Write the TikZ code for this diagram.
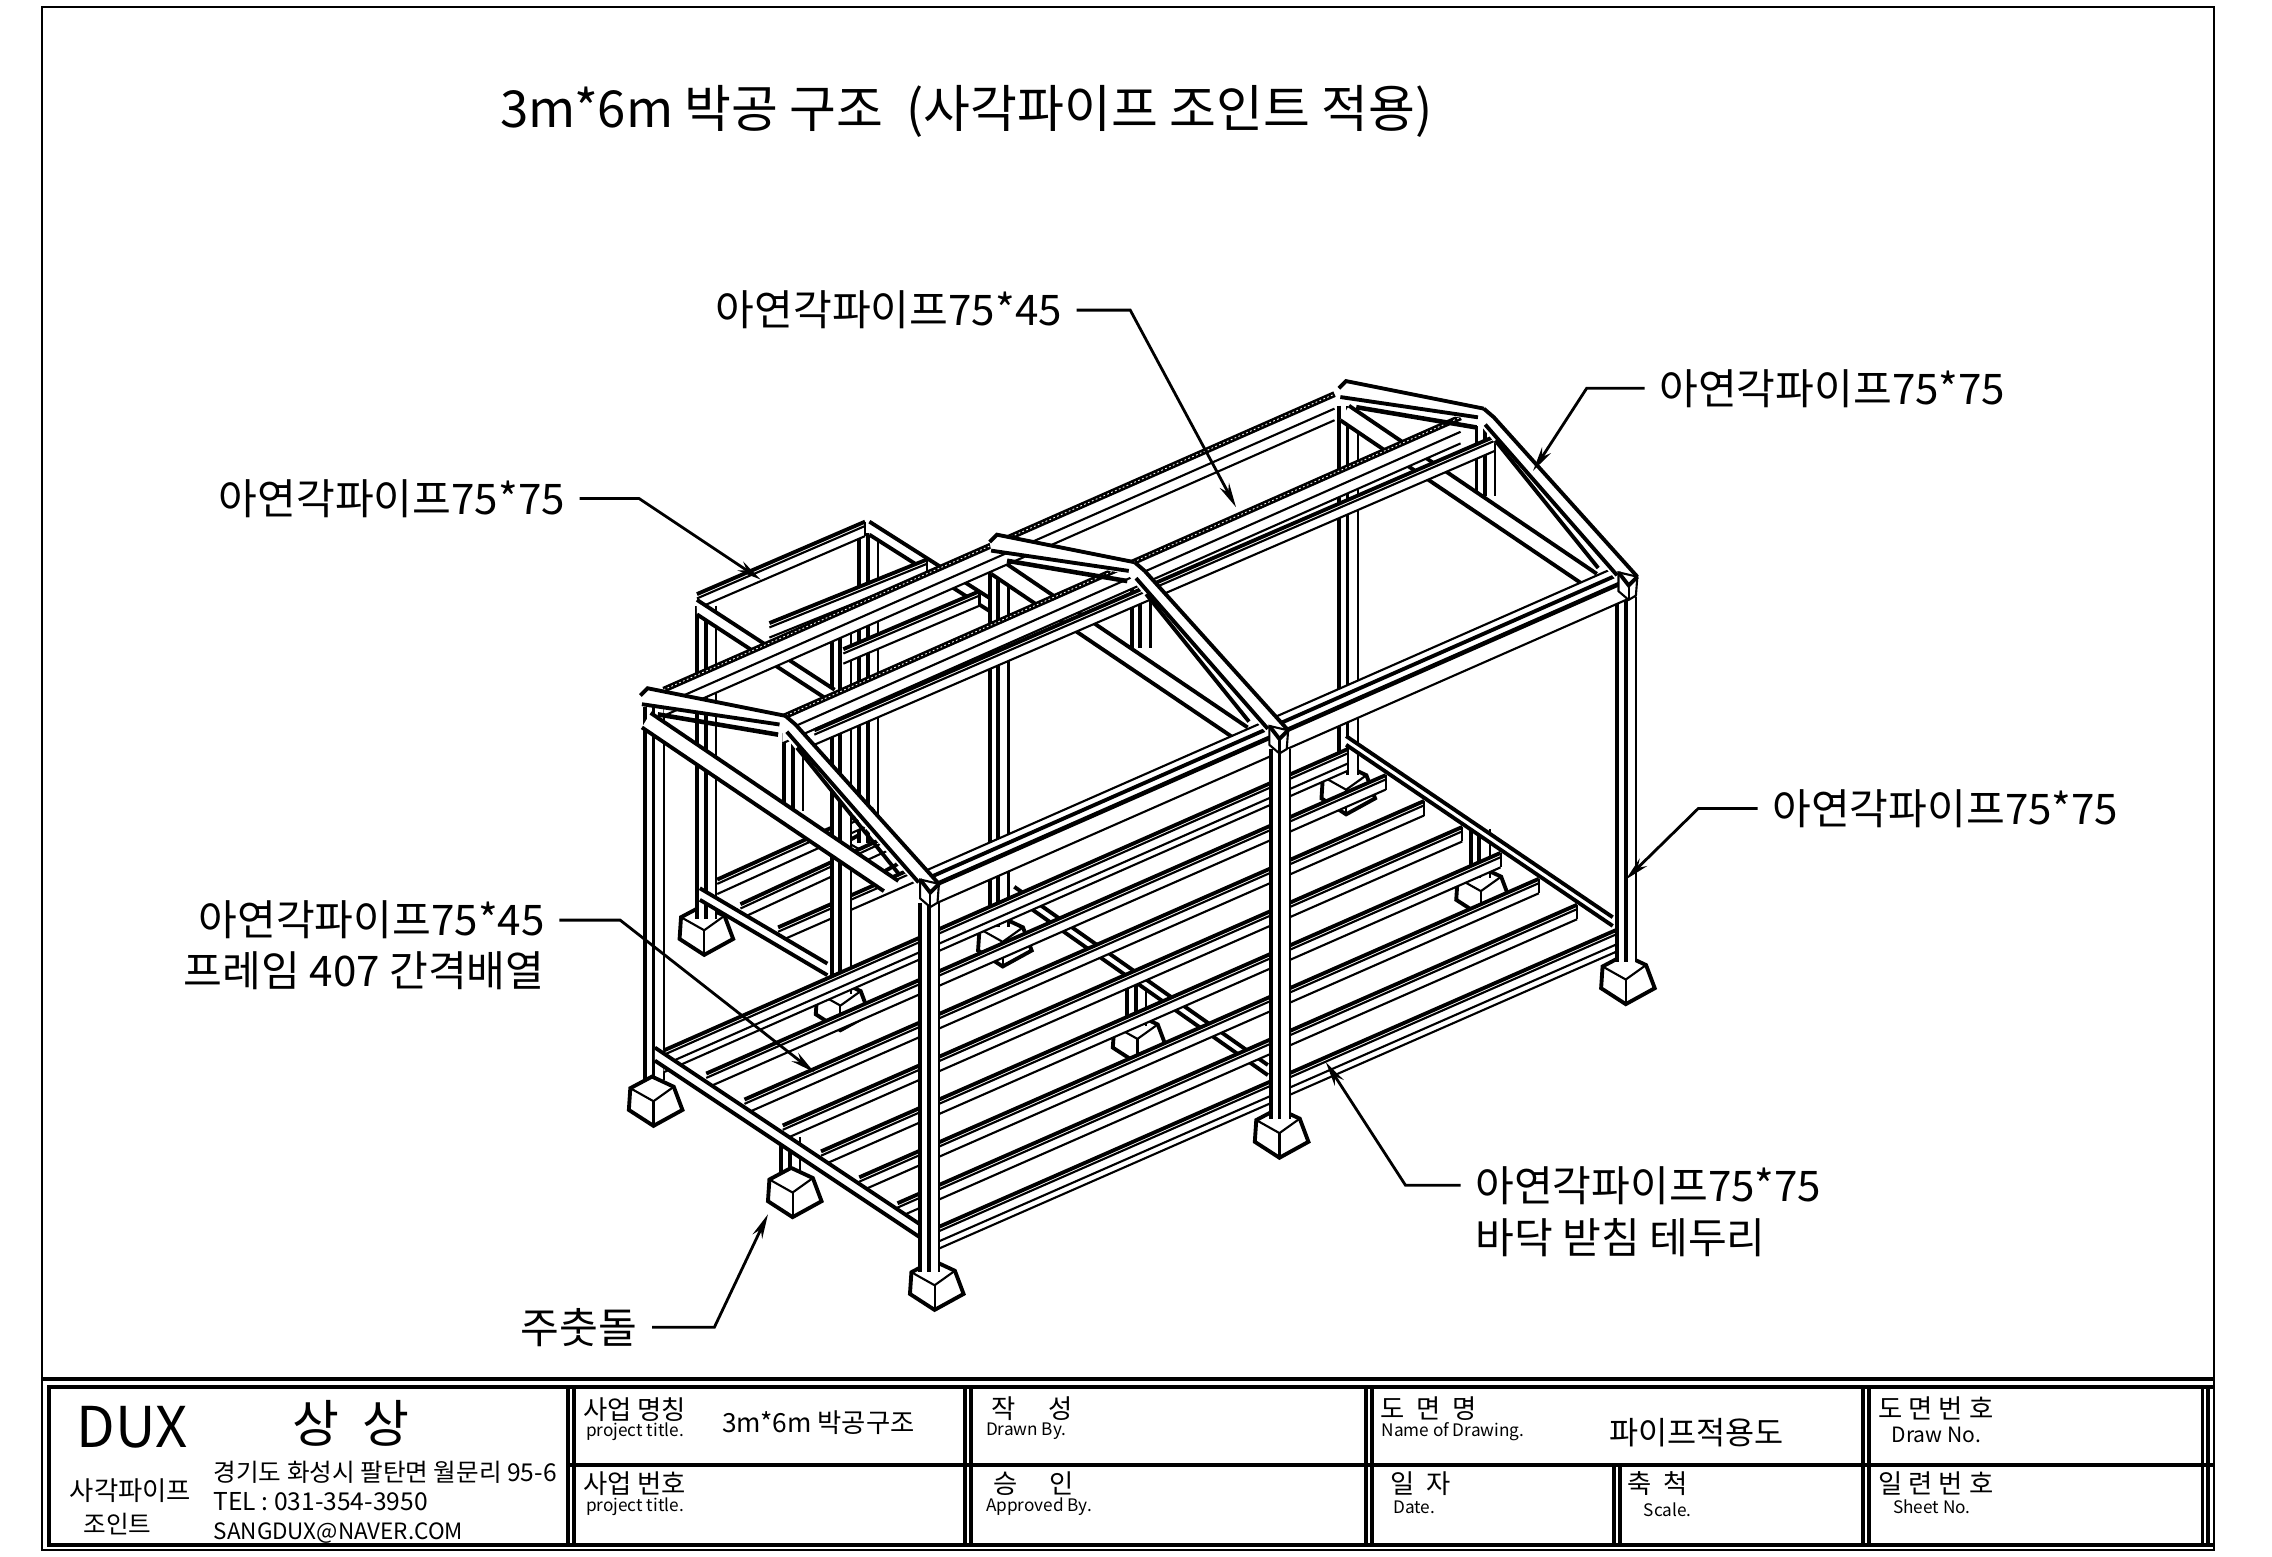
\documentclass[tikz,border=0pt]{standalone}
\usepackage{fontspec}
\setmainfont{Noto Sans CJK KR}
\usetikzlibrary{arrows.meta}

% one pipe seen from the side: heavy edge, then lighter edges
\newcommand{\upright}[3]{%
  \fill[white] (#1,#2) rectangle (#1+13,#3);
  \draw[heavy] (#1,#2) -- (#1,#3);
  \draw[heavy] (#1+6,#2) -- (#1+6,#3);
  \draw[light] (#1+13,#2) -- (#1+13,#3);
}
\newcommand{\longpipe}[2]{%
  \fill[white] (#1) -- (#2) -- ([shift={(0,10)}]#2) -- ([shift={(0,10)}]#1) -- cycle;
  \draw[heavy] (#1) -- (#2);
  \draw[light] ([shift={(0,3)}]#1) -- ([shift={(0,3)}]#2);
  \draw[light] ([shift={(0,10)}]#1) -- ([shift={(0,10)}]#2);
  \draw[light] (#2) -- ([shift={(0,10)}]#2);
}
\newcommand{\bigpipe}[2]{%
  \fill[white] (#1) -- (#2) -- ([shift={(0,15)}]#2) -- ([shift={(0,15)}]#1) -- cycle;
  \draw[heavy] (#1) -- (#2);
  \draw[light] ([shift={(0,3)}]#1) -- ([shift={(0,3)}]#2);
  \draw[light] ([shift={(0,10)}]#1) -- ([shift={(0,10)}]#2);
  \draw[light] ([shift={(0,15)}]#1) -- ([shift={(0,15)}]#2);
  \draw[light] (#2) -- ([shift={(0,15)}]#2);
}
\newcommand{\crosspipe}[3]{%
  \fill[white] (#1) -- (#2) -- ([shift={(0,#3)}]#2) -- ([shift={(0,#3)}]#1) -- cycle;
  \draw[heavy] (#1) -- (#2);
  \draw[heavy] ([shift={(0,#3)}]#1) -- ([shift={(0,#3)}]#2);
}
\newcommand{\purlin}[2]{%
  \fill[white] (#1) -- (#2) -- ([shift={(0,18)}]#2) -- ([shift={(0,18)}]#1) -- cycle;
  \draw[line width=1.7pt] (#1) -- (#2);
  \draw[white,line width=.25pt,dash pattern=on .5pt off .7pt] (#1) -- (#2);
  \draw[light] ([shift={(0,10)}]#1) -- ([shift={(0,10)}]#2);
  \draw[light] ([shift={(0,18)}]#1) -- ([shift={(0,18)}]#2);
}
\newcommand{\footing}[1]{%
  \begin{scope}[shift={(#1)}]
    \filldraw[fill=white,heavy] (-16,-9) -- (-1,-17) -- (14,-10) -- (20,6) -- (0,17) -- (-17,6) -- cycle;
    \draw[light] (-16,-9) -- (0,0) -- (14,-10);
    \draw[light] (0,0) -- (0,17);
  \end{scope}}
% lower tie of a gable, runs behind the purlins
\newcommand{\gabletie}[1]{%
  \begin{scope}[shift={(#1)}]
    \fill[white] (4,14) -- (175,130) -- (165,137) -- (-2,24) -- cycle;
    \draw[heavy] (4,14) -- (175,130);
    \draw[heavy] (-2,24) -- (165,137);
  \end{scope}}
% top chord and rafter of a gable
\newcommand{\gabletop}[1]{%
  \begin{scope}[shift={(#1)}]
    \fill[white] (-3,2) -- (2,-3) -- (97,16) -- (105,24) -- (203,132) -- (190,136) -- (105,40) -- (92,24) -- (-2,8) -- cycle;
    \draw[heavy] (-3,2) -- (2,-3) -- (97,16);
    \draw[heavy] (-2,8) -- (93,22);
    \draw[strong] (9,15) -- (92,29);
    \draw[heavy] (97,16) -- (104,22) -- (203,132);
    \draw[heavy] (98,27) -- (189,131);
    \draw[heavy] (105,38) -- (176,126);
  \end{scope}}
\newcommand{\eavecap}[1]{%
  \begin{scope}[shift={(#1)}]
    \filldraw[fill=white,light] (-13,-3) -- (0,0) -- (-1,13) -- (-6,16) -- (-13,10) -- cycle;
    \draw[heavy] (-13,-3) -- (-6,6) -- (0,0);
    \draw[light] (-6,6) -- (-6,16);
  \end{scope}}

\begin{document}
\begin{tikzpicture}[
    x=0.01449cm,
    y=-0.01449cm,
    heavy/.style={line width=1.1pt},
    light/.style={line width=0.6pt},
    strong/.style={line width=1.3pt},
    sheetline/.style={line width=1.1pt},
    callout/.style={anchor=east, inner sep=4pt, font=\fontsize{12}{14}\selectfont},
    calloutr/.style={anchor=west, inner sep=4pt, font=\fontsize{12}{14}\selectfont},
    plaintext/.style={anchor=west, inner sep=0pt, font=\fontsize{12}{14}\selectfont},
    han/.style={anchor=west, inner sep=0pt, font=\fontsize{7.5}{8}\selectfont},
    latin/.style={anchor=west, inner sep=0pt, font=\fontsize{4.9}{6}\selectfont},
    leader/.style={line width=0.8pt, -{Stealth[length=7pt,width=3pt]}}
]

\useasboundingbox (0,0) rectangle (1568,1074.5);
\fill[white] (0,0) rectangle (1568,1074.5);

% Sheet border and title block
\draw[light] (29,5) rectangle (1528,1070);
\draw[sheetline] (29,951.5) -- (1528,951.5);
\draw[sheetline] (1528,957) -- (34,957) -- (34,1066) -- (1528,1066);
\draw[sheetline] (392,1011) -- (1528,1011);
\foreach \xpos in {392,666,943,1286,1520} {
    \draw[heavy] (\xpos,957) -- (\xpos,1066);
    \draw[heavy] (\xpos+4,957) -- (\xpos+4,1066);
}
\draw[heavy] (1114,1011) -- (1114,1066);
\draw[heavy] (1118,1011) -- (1118,1066);

\node[anchor=center, inner sep=0pt, font=\fontsize{16}{18}\selectfont] (brandDux) at (91,985) {DUX};
\node[anchor=center, inner sep=0pt, font=\fontsize{14.5}{16}\selectfont] (brandName) at (242,982) {상\ \ 상};
\node[han, anchor=center] (brandPipe) at (90,1029) {사각파이프};
\node[han, anchor=center, font=\fontsize{7}{8}\selectfont] (brandJoint) at (81,1052) {조인트};
\node[han, font=\fontsize{7}{8}\selectfont] (addr) at (147,1016) {경기도 화성시 팔탄면 월문리 95-6};
\node[han, font=\fontsize{7}{8}\selectfont] (tel) at (147,1036) {TEL : 031-354-3950};
\node[han, font=\fontsize{6.4}{8}\selectfont] (mail) at (147,1058) {SANGDUX@NAVER.COM};
\node[han] (projName) at (402,973) {사업 명칭};
\node[latin] (projNameEn) at (404,988) {project title.};
\node[han] (projValue) at (498,982) {3m*6m 박공구조};
\node[han] (drawnBy) at (684,972) {작\quad\ 성};
\node[latin] (drawnByEn) at (680,988) {Drawn By.};
\node[han] (dwgName) at (952,972) {도\ \ 면\ \ 명};
\node[latin] (dwgNameEn) at (953,988) {Name of Drawing.};
\node[han, font=\fontsize{9}{10}\selectfont] (dwgValue) at (1110,989) {파이프적용도};
\node[han] (dwgNo) at (1296,972) {도 면 번 호};
\node[latin, font=\fontsize{6}{7}\selectfont] (dwgNoEn) at (1305,990) {Draw No.};
\node[han] (projNo) at (402,1024) {사업 번호};
\node[latin] (projNoEn) at (404,1040) {project title.};
\node[han] (approved) at (685,1024) {승\quad\ 인};
\node[latin] (approvedEn) at (680,1040) {Approved By.};
\node[han] (dateKo) at (959,1024) {일\ \ 자};
\node[latin] (dateEn) at (961,1040) {Date.};
\node[han] (scaleKo) at (1123,1024) {축\ \ 척};
\node[latin] (scaleEn) at (1134,1042) {Scale.};
\node[han] (sheetNo) at (1296,1024) {일 련 번 호};
\node[latin] (sheetNoEn) at (1306,1040) {Sheet No.};

% Title
\node[plaintext, font=\fontsize{14.5}{16}\selectfont] (title) at (345,77) {3m*6m 박공 구조\ \ (사각파이프 조인트 적용)};

% Footings behind the floor
\footing{929,545}
\footing{692,650}
\footing{1022,615}
\footing{785,717}
\footing{600,590}
\footing{580,694}
\footing{486,642}
\upright{1015}{572}{606}
\upright{778}{675}{708}

% Rear frame
\upright{593}{368}{582}
\upright{481}{418}{634}
\longpipe{495,607}{603,558}
\longpipe{511,624}{617,575}
\longpipe{537,640}{635,597}
\longpipe{481,410}{597,360}
\crosspipe{600,360}{685,414}{9}
\longpipe{531,430}{640,386}
\crosspipe{483,613}{571,665}{8}
\upright{574}{432}{686}
\crosspipe{481,414}{576,476}{10}
\longpipe{582,448}{676,408}

% Posts along the back and under the ridge
\upright{924}{280}{535}
\upright{683}{384}{640}
\upright{445}{488}{745}
\footing{451,760}
\upright{1019}{294}{342}
\upright{781}{400}{447}
\upright{541}{506}{560}

% Floor
\crosspipe{700,612}{875,735}{7}
\crosspipe{929,508}{1113,633}{6}
\upright{539}{785}{815}
\footing{547,823}
\bigpipe{458,725}{930,517}
\foreach \j in {1,...,6} {
    \pgfmathsetmacro\ax{461+26.4*\j}
    \pgfmathsetmacro\ay{723+17.9*\j}
    \pgfmathsetmacro\bx{930+26.4*\j}
    \pgfmathsetmacro\by{517+17.9*\j}
    \longpipe{\ax,\ay}{\bx,\by}
}
\crosspipe{452,723}{638,847}{9}
\footing{1122,676}
\upright{1116}{412}{664}
\bigpipe{645,848}{1115,642}

% Roof frames, far end first
\gabletie{927,266}
\gabletie{686,372}
\gabletie{445,478}
\purlin{458,476}{921,272}
\purlin{540,495}{1008,288}
\longpipe{562,504}{1032,301}

% Eave beam
\fill[white] (634,603) -- (1116,391) -- (1129,411) -- (647,623) -- cycle;
\foreach \ox/\oy/\lw in {-14/-7/light, -12/-2/heavy, -8/3/strong, -1/13/light} {
    \draw[\lw] (648+\ox,610+\oy) -- (1130+\ox,398+\oy);
}
\gabletop{927,266}
\gabletop{686,372}
\gabletop{445,478}

% Front posts
\eavecap{1130,398}
\footing{883,782}
\upright{877}{517}{772}
\eavecap{889,504}
\footing{645,887}
\upright{635}{623}{878}
\eavecap{648,610}

% Callouts
\node[callout] (lblRidge) at (743,214) {아연각파이프75*45};
\coordinate (elbowRidge) at (780,214);
\coordinate (tipRidge) at (853,350);
\draw[leader] (lblRidge) -- (elbowRidge) -- (tipRidge);

\node[calloutr] (lblRafter) at (1135,268) {아연각파이프75*75};
\coordinate (elbowRafter) at (1095,268);
\coordinate (tipRafter) at (1058,325);
\draw[leader] (lblRafter) -- (elbowRafter) -- (tipRafter);

\node[callout] (lblRear) at (400,344) {아연각파이프75*75};
\coordinate (elbowRear) at (441,344);
\coordinate (tipRear) at (525,400);
\draw[leader] (lblRear) -- (elbowRear) -- (tipRear);

\node[calloutr] (lblPost) at (1213,558) {아연각파이프75*75};
\coordinate (elbowPost) at (1172,558);
\coordinate (tipPost) at (1122,607);
\draw[leader] (lblPost) -- (elbowPost) -- (tipPost);

\node[callout] (lblJoist) at (386,635) {아연각파이프75*45};
\node[callout] (lblJoistB) at (386,670) {프레임 407 간격배열};
\coordinate (elbowJoist) at (428,635);
\coordinate (tipJoist) at (562,740);
\draw[leader] (lblJoist) -- (elbowJoist) -- (tipJoist);

\node[calloutr] (lblEdge) at (1008,818) {아연각파이프75*75};
\node[calloutr] (lblEdgeB) at (1008,854) {바닥 받침 테두리};
\coordinate (elbowEdge) at (970,818);
\coordinate (tipEdge) at (915,733);
\draw[leader] (lblEdge) -- (elbowEdge) -- (tipEdge);

\node[callout] (lblStone) at (450,916) {주춧돌};
\coordinate (elbowStone) at (493,916);
\coordinate (tipStone) at (530,838);
\draw[leader] (lblStone) -- (elbowStone) -- (tipStone);

\end{tikzpicture}
\end{document}
